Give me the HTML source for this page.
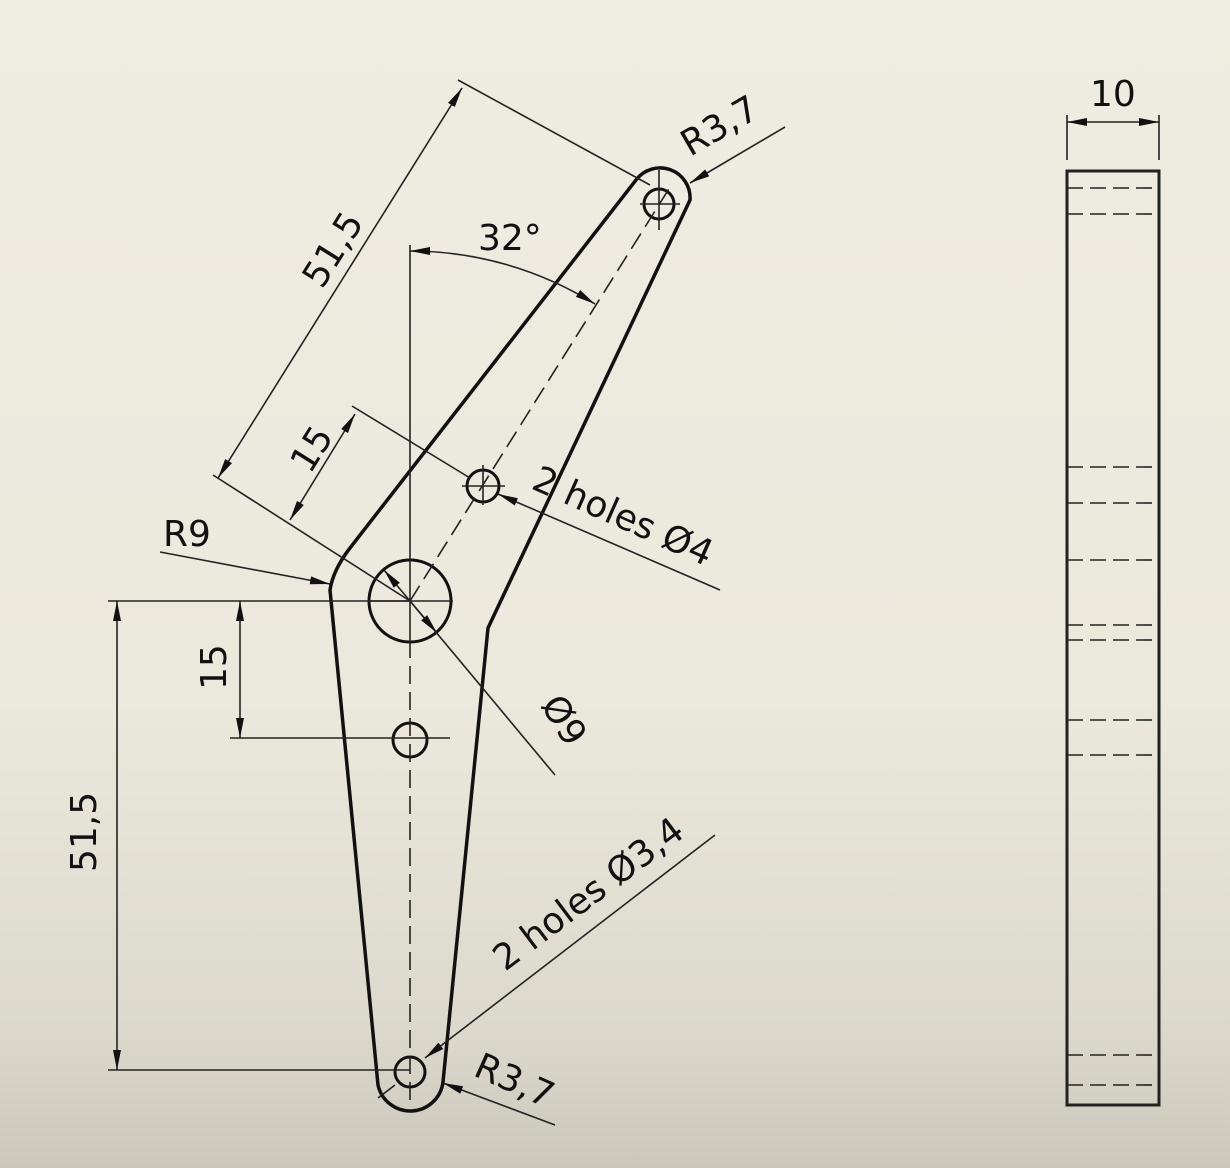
<!DOCTYPE html>
<html><head><meta charset="utf-8"><style>
html,body{margin:0;padding:0;}
body{width:1230px;height:1168px;overflow:hidden;background:linear-gradient(#efece1 0%,#ebe8dc 60%,#dcd9cc 88%,#cbc8bb 100%);}
svg{position:absolute;left:0;top:0;}
text{font-family:"DejaVu Sans","Liberation Sans",sans-serif;font-size:36px;fill:#111;}
</style></head><body>
<svg width="1230" height="1168" viewBox="0 0 1230 1168">
<defs>
<marker id="ar" viewBox="0 0 20 8" refX="20" refY="4" markerWidth="20" markerHeight="8" markerUnits="userSpaceOnUse" orient="auto-start-reverse"><path d="M0,0 L20,4 L0,8 z" fill="#111"/></marker>
</defs>
<g fill="none" stroke="#111" stroke-width="3.5">
<path d="M636,180 L350,548 Q333,570 330,590 L378,1085 A33,33 0 0 0 443,1082 L488,628 L690,200 A30,30 0 0 0 636,180 Z"/>
</g>
<g fill="none" stroke="#111" stroke-width="3">
<circle cx="410" cy="601" r="41"/>
<circle cx="659" cy="204" r="15"/>
<circle cx="483" cy="486" r="16"/>
<circle cx="410" cy="740" r="17"/>
<circle cx="410" cy="1072" r="15"/>
</g>
<g fill="none" stroke="#222" stroke-width="1.6">
<line x1="410" y1="245" x2="410" y2="640"/>
<line x1="410" y1="640" x2="410" y2="1100" stroke-dasharray="18,8"/>
<line x1="410" y1="601" x2="672" y2="184" stroke-dasharray="18,8"/>
<line x1="368" y1="601" x2="453" y2="601"/>
<line x1="230" y1="738" x2="450" y2="738"/>
<line x1="108" y1="601" x2="410" y2="601"/>
<line x1="108" y1="1070" x2="410" y2="1070"/>
<line x1="640" y1="204" x2="680" y2="204"/><line x1="659" y1="170" x2="659" y2="230"/>
<line x1="462" y1="486" x2="505" y2="486"/><line x1="483" y1="465" x2="483" y2="505"/>
</g>
<g fill="none" stroke="#222" stroke-width="1.6">
<line x1="458" y1="80" x2="650" y2="185"/>
<line x1="213" y1="475" x2="410" y2="601"/>
<line x1="462" y1="88" x2="218" y2="478" marker-start="url(#ar)" marker-end="url(#ar)"/>
<line x1="352" y1="406" x2="470" y2="478"/>
<line x1="355" y1="414" x2="290" y2="520" marker-start="url(#ar)" marker-end="url(#ar)"/>
<path d="M410,251 A350,350 0 0 1 595,304" marker-start="url(#ar)" marker-end="url(#ar)"/>
<line x1="785" y1="127" x2="690" y2="183" marker-end="url(#ar)"/>
<line x1="720" y1="590" x2="498" y2="494" marker-end="url(#ar)"/>
<line x1="160" y1="552" x2="330" y2="584" marker-end="url(#ar)"/>
<line x1="410" y1="601" x2="555" y2="775"/>
<line x1="410" y1="601" x2="437" y2="633" marker-end="url(#ar)"/>
<line x1="410" y1="601" x2="384" y2="570" marker-end="url(#ar)"/>
<line x1="240" y1="601" x2="240" y2="738" marker-start="url(#ar)" marker-end="url(#ar)"/>
<line x1="117" y1="601" x2="117" y2="1070" marker-start="url(#ar)" marker-end="url(#ar)"/>
<line x1="715" y1="835" x2="425" y2="1058" marker-end="url(#ar)"/>
<line x1="378" y1="1098" x2="395" y2="1085"/>
<line x1="555" y1="1125" x2="443" y2="1083" marker-end="url(#ar)"/>
</g>
<text transform="translate(322,290) rotate(-58)">51,5</text>
<text transform="translate(310,475) rotate(-58)">15</text>
<text x="478" y="250">32°</text>
<text transform="translate(690,157) rotate(-30)">R3,7</text>
<text transform="translate(530,488) rotate(24)">2 holes Ø4</text>
<text x="163" y="546">R9</text>
<text transform="translate(540,705) rotate(58)">Ø9</text>
<text transform="translate(226,690) rotate(-90)">15</text>
<text transform="translate(96,872) rotate(-90)">51,5</text>
<text transform="translate(505,972) rotate(-37)">2 holes Ø3,4</text>
<text transform="translate(472,1075) rotate(24)">R3,7</text>
<g fill="none" stroke="#222" stroke-width="1.6">
<rect x="1067" y="171" width="92" height="934" stroke-width="3"/>
<line x1="1067" y1="115" x2="1067" y2="160"/><line x1="1159" y1="115" x2="1159" y2="160"/>
<line x1="1067" y1="122" x2="1159" y2="122" marker-start="url(#ar)" marker-end="url(#ar)"/>
<g stroke-dasharray="16,7">
<line x1="1067" y1="188" x2="1159" y2="188"/><line x1="1067" y1="214" x2="1159" y2="214"/>
<line x1="1067" y1="467" x2="1159" y2="467"/><line x1="1067" y1="503" x2="1159" y2="503"/>
<line x1="1067" y1="560" x2="1159" y2="560"/><line x1="1067" y1="625" x2="1159" y2="625"/>
<line x1="1067" y1="640" x2="1159" y2="640"/><line x1="1067" y1="720" x2="1159" y2="720"/>
<line x1="1067" y1="755" x2="1159" y2="755"/><line x1="1067" y1="1055" x2="1159" y2="1055"/>
<line x1="1067" y1="1085" x2="1159" y2="1085"/>
</g>
</g>
<text x="1090" y="106">10</text>
</svg>
</body></html>
